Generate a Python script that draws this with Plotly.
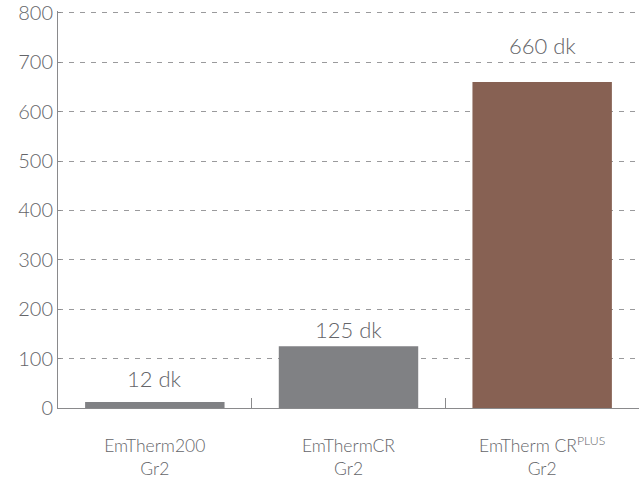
import plotly.graph_objects as go

categories = ["EmTherm200<br>Gr2", "EmThermCR<br>Gr2", "EmTherm CR<sup>PLUS</sup><br>Gr2"]
values = [12, 125, 660]
labels = ["12 dk", "125 dk", "660 dk"]
colors = ["#808184", "#808184", "#876153"]
label_shift = [24, 17, 37]

FONT = "Lato, Noto Sans, sans-serif"
GRAY = "#646569"

fig = go.Figure(go.Bar(x=categories, y=values, marker=dict(color=colors, line=dict(width=0)),
                       hoverinfo="skip"))

for c, v, t, s in zip(categories, values, labels, label_shift):
    fig.add_annotation(x=c, y=v, text=t, showarrow=False, yshift=s,
                       font=dict(family=FONT, size=22, color=GRAY, weight=300))

fig.update_layout(
    width=643, height=488,
    margin=dict(l=58, r=4, t=11, b=80),
    plot_bgcolor="white", paper_bgcolor="white",
    bargap=0.28, showlegend=False,
    font=dict(family=FONT, color=GRAY, weight=300),
)
fig.update_xaxes(
    type="category", tickson="boundaries", ticks="inside", ticklen=10,
    tickcolor="#8a8a8c", tickwidth=1, automargin=False,
    showline=True, linecolor="#8a8a8c", linewidth=1,
    showgrid=False, tickfont=dict(family=FONT, size=17.5, color=GRAY, weight=300),
    ticklabelstandoff=22,
)
fig.update_yaxes(
    range=[0, 804], tickvals=[0, 100, 200, 300, 400, 500, 600, 700, 800],
    showline=True, linecolor="#8a8a8c", linewidth=1, automargin=False,
    ticks="inside", ticklen=3, tickcolor="#8a8a8c",
    showgrid=True, gridcolor="#9a9a9c", griddash="5px,6px", gridwidth=1,
    zeroline=False, ticklabeloverflow="allow",
    tickfont=dict(family=FONT, size=20, color=GRAY, weight=300),
)

fig.write_html("out.html", config={"displayModeBar": False},
               post_script="document.body.style.margin='0';")
